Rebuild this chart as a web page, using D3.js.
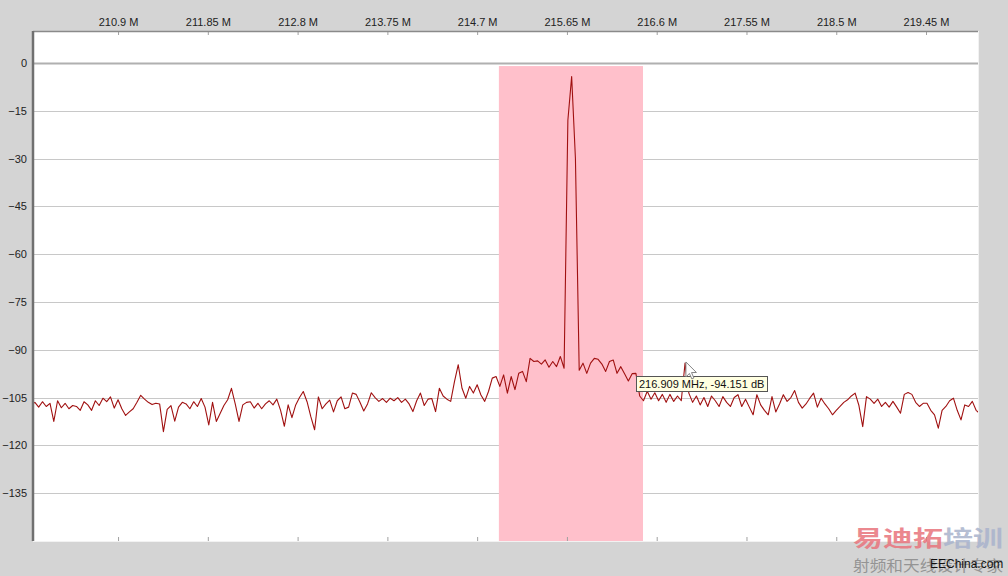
<!DOCTYPE html>
<html>
<head>
<meta charset="utf-8">
<script src="https://cdnjs.cloudflare.com/ajax/libs/d3/7.8.5/d3.min.js"></script>
<style>
body { margin: 0; background: #d4d4d4; }
svg { display: block; font-family: "Liberation Sans", Arial, sans-serif; }
</style>
</head>
<body>
<div id="chart"></div>
<script>

var width = 1008;
var height = 576;
var margin = {top: 31, right: 30, bottom: 35, left: 33};

// spectrum samples (dB), first sample at freqStart, spacing freqStep
var freqStart = 209.98;
var freqStep = 0.04;
var levels = [
  -107.3, -106.5, -108.0, -106.3, -107.8, -106.8, -112.5, -106.0, -108.2, -106.8,
  -108.5, -107.5, -107.8, -109.0, -106.3, -107.3, -109.0, -106.0, -107.5, -105.2,
  -106.3, -104.8, -108.3, -105.7, -108.5, -110.6, -109.5, -108.5, -106.5, -104.3,
  -105.5, -106.5, -107.2, -106.8, -107.0, -115.7, -108.7, -107.5, -112.4, -108.0,
  -106.5, -107.0, -108.5, -106.3, -107.8, -105.3, -108.0, -113.6, -106.5, -112.5,
  -110.0, -107.5, -105.7, -102.1, -107.0, -112.5, -107.3, -106.5, -106.3, -108.3,
  -106.8, -108.5, -107.0, -106.0, -107.3, -105.5, -109.0, -114.0, -107.3, -111.3,
  -107.3, -105.0, -103.1, -106.3, -111.0, -115.1, -104.8, -108.5, -107.0, -105.8,
  -109.5, -106.0, -104.8, -108.5, -108.0, -103.6, -104.0, -106.5, -109.2, -107.0,
  -103.5, -105.0, -106.2, -105.3, -106.5, -105.2, -106.0, -105.0, -106.5, -105.5,
  -107.0, -109.4, -106.0, -103.6, -107.5, -105.5, -105.3, -109.4, -102.1, -104.5,
  -105.5, -106.2, -100.0, -94.7, -102.1, -105.2, -101.5, -103.6, -101.0, -104.2,
  -106.2, -103.1, -98.9, -98.4, -101.5, -97.9, -103.6, -98.4, -102.5, -97.4,
  -96.8, -100.0, -92.7, -93.7, -93.5, -94.5, -93.2, -95.5, -93.7, -95.3,
  -92.1, -95.8, -18.0, -4.3, -30.0, -96.4, -94.2, -97.4, -94.2, -92.7,
  -93.0, -94.5, -96.8, -93.7, -93.2, -97.4, -95.3, -97.5, -99.8, -97.5,
  -97.4, -104.5, -106.0, -103.0, -105.5, -103.5, -106.0, -104.0, -106.5, -104.0,
  -106.2, -104.5, -106.0, -94.2, -103.6, -106.5, -104.5, -107.3, -105.0, -107.8,
  -104.5, -106.0, -107.8, -104.7, -106.5, -107.8, -105.0, -104.1, -107.8, -105.5,
  -108.0, -110.4, -104.1, -107.3, -109.0, -110.4, -104.7, -109.5, -107.0, -104.1,
  -106.2, -105.0, -102.8, -106.5, -108.3, -107.0, -105.2, -103.6, -108.0, -105.2,
  -107.0, -108.5, -110.4, -109.0, -107.8, -106.5, -105.7, -104.5, -103.6, -107.5,
  -114.1, -104.7, -105.5, -106.8, -105.5, -107.8, -106.5, -108.0, -106.2, -108.0,
  -109.9, -104.0, -103.4, -104.0, -106.5, -107.8, -106.8, -106.8, -109.0, -110.4,
  -114.6, -109.0, -107.8, -106.0, -105.2, -109.0, -112.0, -107.3, -107.8, -106.2,
  -109.0, -110.0
];

var xTicks = [210.9, 211.85, 212.8, 213.75, 214.7, 215.65, 216.6, 217.55, 218.5, 219.45];
var yTicks = [0, -15, -30, -45, -60, -75, -90, -105, -120, -135];

// highlighted channel and readout
var band = [214.93, 216.455];
var bandTop = -1;
var marker = {freq: 216.909, level: -94.151};

var samples = levels.map(function(d, i) {
  return {f: freqStart + i * freqStep, v: d};
});

var svg = d3.select("#chart").append("svg")
  .attr("width", width)
  .attr("height", height);

var w = width - margin.left - margin.right - 0;
var h = height - margin.top - margin.bottom;

var x = d3.scaleLinear().domain([210, 220]).range([0, 945]);
var y = d3.scaleLinear().domain([-150, 10]).range([510, 0]);

svg.append("rect")
  .attr("width", width).attr("height", height)
  .attr("fill", "#d4d4d4");

var g = svg.append("g")
  .attr("transform", "translate(" + margin.left + "," + margin.top + ")");

g.append("rect")
  .attr("width", 945).attr("height", 510)
  .attr("fill", "#ffffff");

g.append("clipPath").attr("id", "plotclip")
  .append("rect").attr("width", 945).attr("height", 510);

// gridlines
g.selectAll(".grid")
  .data(yTicks)
  .enter().append("line")
  .attr("class", "grid")
  .attr("x1", 0).attr("x2", 945)
  .attr("y1", function(d) { return Math.round(y(d)) + 0.5; })
  .attr("y2", function(d) { return Math.round(y(d)) + 0.5; })
  .attr("stroke", function(d) { return d == 0 ? "#b0b0b0" : "#c8c8c8"; })
  .attr("stroke-width", function(d) { return d == 0 ? 2 : 1; });

g.append("rect")
  .attr("x", x(band[0]))
  .attr("y", y(bandTop))
  .attr("width", x(band[1]) - x(band[0]))
  .attr("height", 510 - y(bandTop))
  .attr("fill", "pink");

var line = d3.line()
  .x(function(d) { return x(d.f); })
  .y(function(d) { return y(d.v); });

g.append("path")
  .datum(samples)
  .attr("clip-path", "url(#plotclip)")
  .attr("d", line)
  .attr("fill", "none")
  .attr("stroke", "#a01010")
  .attr("stroke-width", 1.1)
  .attr("stroke-linejoin", "round");

// axes
var xTop = g.append("g")
  .call(d3.axisTop(x)
    .tickValues(xTicks)
    .tickSize(-4)
    .tickPadding(5)
    .tickFormat(function(d) { return d + " M"; }));
xTop.select(".domain").remove();
xTop.selectAll(".tick line").attr("stroke", "#a0a0a0");
xTop.selectAll("text")
  .attr("font-size", "11px")
  .attr("font-family", "Liberation Sans, Arial, sans-serif")
  .attr("fill", "#222");

var xBottom = g.append("g")
  .attr("transform", "translate(0,510)")
  .call(d3.axisBottom(x).tickValues(xTicks).tickSize(-4).tickFormat(""));
xBottom.select(".domain").remove();
xBottom.selectAll(".tick line").attr("stroke", "#a0a0a0");

var yAxis = g.append("g")
  .call(d3.axisLeft(y).tickValues(yTicks).tickSize(0).tickPadding(6));
yAxis.select(".domain").remove();
yAxis.selectAll("text")
  .attr("font-size", "11px")
  .attr("font-family", "Liberation Sans, Arial, sans-serif")
  .attr("fill", "#222");

// sunken frame
g.append("line").attr("x1", 0).attr("x2", 945).attr("y1", 0.5).attr("y2", 0.5)
  .attr("stroke", "#8a8a8a").attr("stroke-width", 1.5);
g.append("line").attr("x1", 0).attr("x2", 0).attr("y1", 0).attr("y2", 510)
  .attr("stroke", "#707070").attr("stroke-width", 2.5);
g.append("line").attr("x1", 0).attr("x2", 946).attr("y1", 510.5).attr("y2", 510.5)
  .attr("stroke", "#f2f2f2");
g.append("line").attr("x1", 945.5).attr("x2", 945.5).attr("y1", 0).attr("y2", 511)
  .attr("stroke", "#f2f2f2");

// readout tooltip + cursor
var mx = x(marker.freq), my = y(marker.level);
var tip = g.append("g")
  .attr("transform", "translate(" + Math.round(mx - 50) + "," + Math.round(my + 13) + ")");
tip.append("rect")
  .attr("x", 0.5).attr("y", 0.5)
  .attr("width", 131).attr("height", 15)
  .attr("fill", "#ffffe1")
  .attr("stroke", "#555");
tip.append("text")
  .attr("x", 3).attr("y", 12)
  .attr("font-size", "11px")
  .attr("fill", "#111")
  .text(marker.freq.toFixed(3) + " MHz, " + marker.level.toFixed(3) + " dB");

g.append("path")
  .attr("transform", "translate(" + mx + "," + (my - 1) + ")")
  .attr("d", "M0,0 L0,15 L3.5,11.5 L6,17 L8,16 L5.6,10.6 L10.5,10.5 Z")
  .attr("fill", "#ffffff")
  .attr("stroke", "#777")
  .attr("stroke-width", 0.9);

// watermark
var wm = svg.append("g").attr("opacity", 0.85);
wm.append("text")
  .attr("x", 853).attr("y", 546)
  .attr("font-family", "Noto Sans CJK SC")
  .attr("font-weight", "bold")
  .attr("font-size", "22px")
  .attr("textLength", 150)
  .attr("lengthAdjust", "spacingAndGlyphs")
  .selectAll("tspan")
  .data([{t: "易迪拓", c: "#e8747c"}, {t: "培训", c: "#a9b3cc"}])
  .enter().append("tspan")
  .attr("fill", function(d) { return d.c; })
  .text(function(d) { return d.t; });
wm.append("text")
  .attr("x", 853).attr("y", 571)
  .attr("font-family", "Noto Sans CJK SC")
  .attr("font-size", "15px")
  .attr("textLength", 150)
  .attr("lengthAdjust", "spacingAndGlyphs")
  .attr("fill", "#8a8a8a")
  .text("射频和天线设计专家");
svg.append("text")
  .attr("x", 930).attr("y", 568)
  .attr("font-size", "12px")
  .attr("fill", "#111")
  .text("EEChina.com");

</script>
</body>
</html>
